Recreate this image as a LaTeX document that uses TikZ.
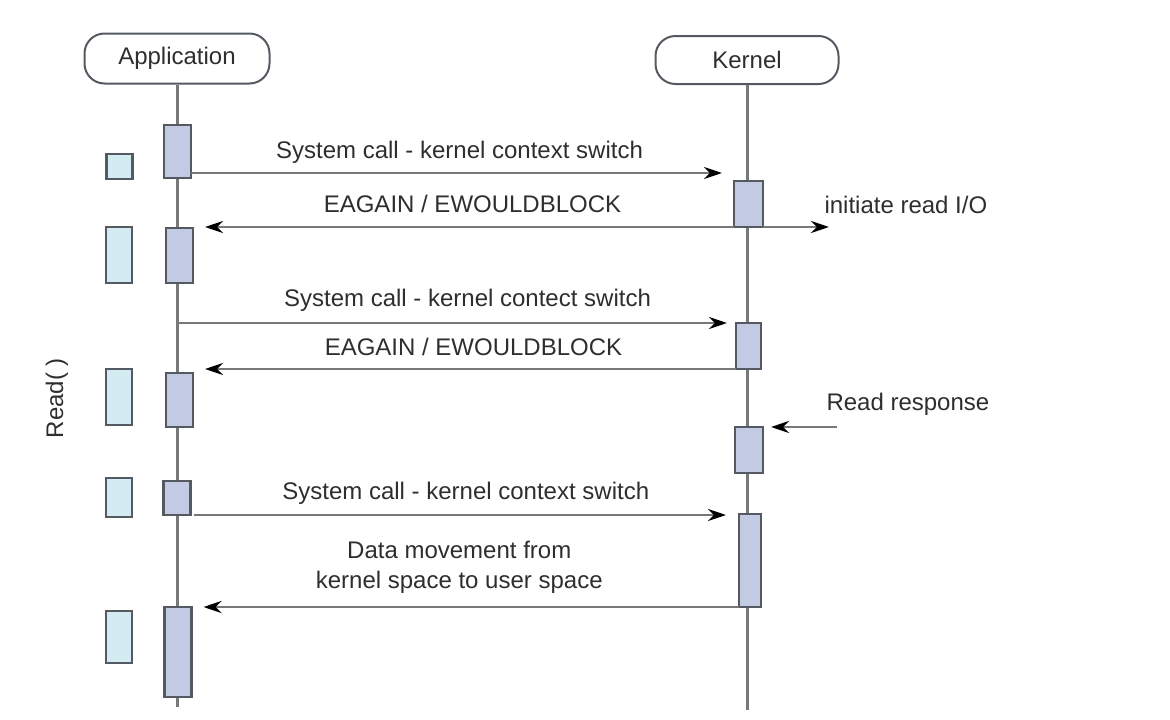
\documentclass[tikz,border=0pt]{standalone}
\usepackage{fontspec}
\setmainfont{Liberation Sans}
\usetikzlibrary{arrows.meta}

\definecolor{actfill}{HTML}{C3CAE4}
\definecolor{idlefill}{HTML}{D4EBF1}
\definecolor{edge}{HTML}{555A62}
\definecolor{wire}{HTML}{787878}
\definecolor{ink}{HTML}{2E2E2E}

\tikzset{
	actor/.style={draw=edge, line width=2pt, rounded corners=20pt, minimum width=185pt, minimum height=50pt, text=ink, inner sep=0pt},
	life/.style={draw=wire, line width=3pt},
	act/.style={draw=edge, fill=actfill, line width=2.5pt, minimum width=27pt, inner sep=0pt, outer sep=0pt},
	idle/.style={draw=edge, fill=idlefill, line width=2.5pt, minimum width=26pt, inner sep=0pt, outer sep=0pt},
	msg/.style={draw=wire, line width=2.8pt, -{Stealth[length=18pt, width=12pt, inset=6pt, color=black]}},
	lbl/.style={text=ink, anchor=base, yshift=14.5pt},
	note/.style={text=ink, anchor=west},
}

\begin{document}
\begin{tikzpicture}[x=1pt, y=-1pt, every node/.style={font=\fontsize{24}{30}\selectfont}]
				\useasboundingbox (0, 0) rectangle (1170, 720);

				%%the two parties and their lifelines
				\node[actor] (app) at (177, 58.5) {Application};
				\node[actor, minimum width=183pt, minimum height=48pt] (kern) at (747, 60) {Kernel};
				\coordinate (append) at (177, 707);
				\coordinate (kernend) at (747, 710);
				\draw[life] (app.south) -- (append);
				\draw[life] (kern.south) -- (kernend);

				\node[text=ink, rotate=90] (readcall) at (57, 398) {Read( )};

				%%application side
				\node[act, minimum height=53pt] (a1) at (177.5, 151.5) {};
				\node[act, minimum height=55pt] (a2) at (179.5, 255.5) {};
				\node[act, minimum height=54pt] (a3) at (179.5, 400) {};
				\node[act, minimum height=34pt] (a4) at (177, 498) {};
				\node[act, minimum height=90pt] (a5) at (178, 652) {};

				\node[idle, minimum height=25pt] (b1) at (119.5, 166.5) {};
				\node[idle, minimum height=56pt] (b2) at (119, 255) {};
				\node[idle, minimum height=56pt] (b3) at (119, 397) {};
				\node[idle, minimum height=39pt] (b4) at (119, 497.5) {};
				\node[idle, minimum height=52pt] (b5) at (119, 637) {};

				%%kernel side
				\node[act, minimum width=29pt, minimum height=46pt] (k1) at (748.5, 204) {};
				\node[act, minimum width=25pt, minimum height=46pt] (k2) at (748.5, 346) {};
				\node[act, minimum width=28pt, minimum height=46pt] (k3) at (749, 450) {};
				\node[act, minimum width=22pt, minimum height=93pt] (k4) at (750, 560.5) {};

				%%first try
				\draw[msg, shorten >=12pt] ([yshift=5pt]a1.south east) -- ([yshift=5pt]a1.south east -| k1.west)
					node[lbl, midway, xshift=-3pt] {System call - kernel context switch};
				\draw[msg, shorten >=12pt] (k1.south west) -- (k1.south west -| a2.east)
					node[lbl, midway, xshift=9pt] {EAGAIN / EWOULDBLOCK};
				\node[note] (io) at (821, 205) {initiate read I/O};
				\coordinate (ioend) at (829, 227);
				\draw[msg] (k1.south east) -- (ioend);

				%%second try
				\draw[msg, shorten >=9pt] (k2.north west -| app.south) -- (k2.north west)
					node[lbl, midway, xshift=11pt, yshift=2pt] {System call - kernel contect switch};
				\draw[msg, shorten >=12pt] (k2.south west) -- (k2.south west -| a3.east)
					node[lbl, midway, xshift=9pt, yshift=-1pt] {EAGAIN / EWOULDBLOCK};

				%%data is ready
				\node[note] (rr) at (823, 404) {Read response};
				\coordinate (rrstart) at (837, 427);
				\draw[msg, shorten >=8pt] (rrstart) -- (k3.north east);

				%%third try, data copied
				\draw[msg, shorten >=16pt] ([xshift=3pt]a4.south east) -- ([xshift=3pt]a4.south east -| k4.west)
					node[lbl, midway, xshift=-2pt, yshift=1pt] {System call - kernel context switch};
				\draw[msg, shorten >=12pt] (k4.south west) -- (k4.south west -| a5.east)
					node[text=ink, anchor=south, inner sep=0pt, align=center, midway, xshift=-6pt, yshift=12pt] {Data movement from\\kernel space to user space};
\end{tikzpicture}
\end{document}
